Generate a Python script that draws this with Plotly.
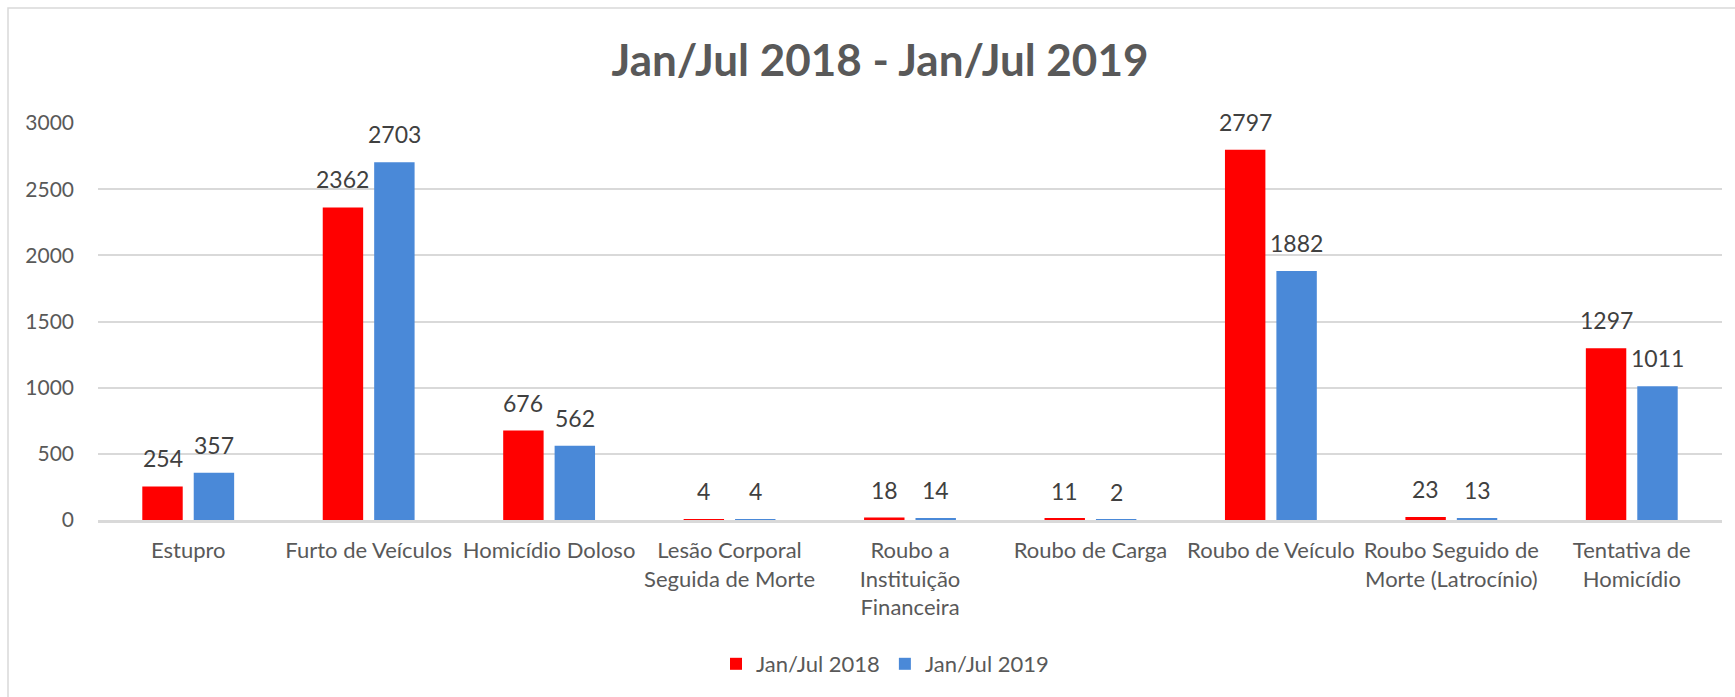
import plotly.graph_objects as go

# ---- data ----
categories = [
    "Estupro",
    "Furto de Veículos",
    "Homicídio Doloso",
    "Lesão Corporal<br>Seguida de Morte",
    "Roubo a<br>Instituição<br>Financeira",
    "Roubo de Carga",
    "Roubo de Veículo",
    "Roubo Seguido de<br>Morte (Latrocínio)",
    "Tentativa de<br>Homicídio",
]
jan_jul_2018 = [254, 2362, 676, 4, 18, 11, 2797, 23, 1297]
jan_jul_2019 = [357, 2703, 562, 4, 14, 2, 1882, 13, 1011]
series_names = ["Jan/Jul 2018", "Jan/Jul 2019"]
y_ticks = [0, 500, 1000, 1500, 2000, 2500, 3000]
title_text = "Jan/Jul 2018 - Jan/Jul 2019"

# ---- style ----
W, H = 1735, 697
ML, MR, MT, MB = 98, 13, 123, 177
RED = "#FF0000"
BLUE = "#4A89D8"
GRID = "#D9D9D9"
TXT = "#595959"
LBL = "#404040"
FONT = "Lato, 'Open Sans', sans-serif"
BARGAP = 0.43
BARGROUPGAP = 0.214

plot_w = W - ML - MR
plot_h = H - MT - MB
cat_px = plot_w / len(categories)
slot = cat_px * (1 - BARGAP) / 2
shift = slot / 2

fig = go.Figure()
fig.add_trace(go.Bar(x=categories, y=jan_jul_2018, name=series_names[0],
                     marker=dict(color=RED, line=dict(width=0))))
fig.add_trace(go.Bar(x=categories, y=jan_jul_2019, name=series_names[1],
                     marker=dict(color=BLUE, line=dict(width=0))))

annotations = []
for vals, xs in ((jan_jul_2018, -shift), (jan_jul_2019, shift)):
    for c, v in zip(categories, vals):
        annotations.append(dict(
            x=c, y=v, xref="x", yref="y", text=str(v), showarrow=False,
            xshift=xs, yshift=28, yanchor="middle", xanchor="center",
            font=dict(family=FONT, size=23, color=LBL)))

def px_to_paper_x(px):
    return (px - ML) / plot_w

def px_to_paper_y(py):
    return (H - MB - py) / plot_h

shapes = [dict(type="rect", xref="paper", yref="paper",
               x0=px_to_paper_x(8), x1=px_to_paper_x(W + 20),
               y0=px_to_paper_y(H + 20), y1=px_to_paper_y(8),
               line=dict(color=GRID, width=1.5), fillcolor="rgba(0,0,0,0)",
               layer="below")]

fig.update_layout(
    width=W, height=H, autosize=False,
    margin=dict(l=ML, r=MR, t=MT, b=MB),
    paper_bgcolor="white", plot_bgcolor="white",
    barmode="group", bargap=BARGAP, bargroupgap=BARGROUPGAP,
    font=dict(family=FONT, size=21, color=TXT),
    title=dict(text="<b>" + title_text + "</b>", x=px_to_paper_x(880), xref="paper",
               xanchor="center", y=1 - 61 / H, yanchor="middle",
               font=dict(family=FONT, size=44, color=TXT)),
    legend=dict(orientation="h", x=px_to_paper_x(885), xanchor="center",
                y=px_to_paper_y(664), yanchor="middle",
                font=dict(family=FONT, size=22, color=TXT),
                itemwidth=30, bgcolor="rgba(0,0,0,0)"),
    annotations=annotations,
    shapes=shapes,
    showlegend=True,
)
fig.update_yaxes(range=[0, 3000], tickvals=y_ticks, showgrid=True, gridcolor=GRID,
                 gridwidth=1.5, zeroline=False, showline=False, ticks="",
                 ticklabelstandoff=23, tickfont=dict(family=FONT, size=21, color=TXT))
fig.update_xaxes(showline=True, linecolor=GRID, linewidth=2.5, ticks="",
                 ticklabelstandoff=9, tickfont=dict(family=FONT, size=22, color=TXT),
                 tickangle=0)

fig.write_html("out.html", config={"displayModeBar": False},
               post_script="document.body.style.margin='0px';")
